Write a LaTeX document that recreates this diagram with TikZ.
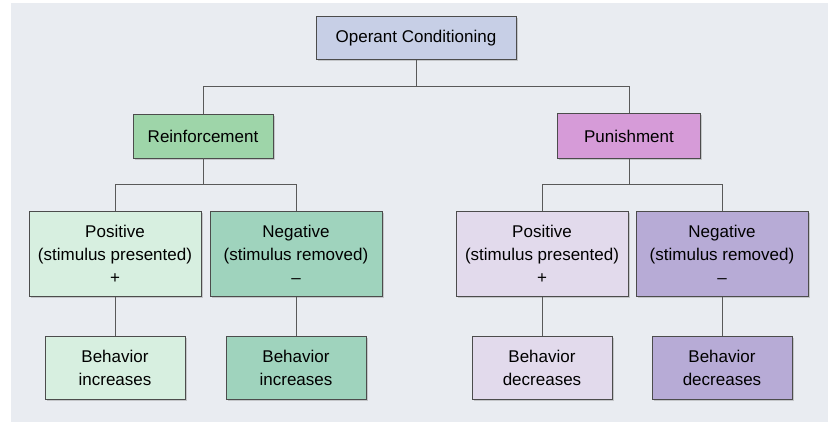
\documentclass[tikz,border=0pt]{standalone}
\usepackage{fontspec}
\setmainfont{Liberation Sans}
\usetikzlibrary{positioning,shadows}

\definecolor{panel}{HTML}{E9ECF1}
\definecolor{topc}{HTML}{C7CFE6}
\definecolor{reinc}{HTML}{9ED5A9}
\definecolor{posr}{HTML}{D7EFE0}
\definecolor{negr}{HTML}{9FD3BD}
\definecolor{punc}{HTML}{D69BD8}
\definecolor{posp}{HTML}{E2DAEC}
\definecolor{negp}{HTML}{B7ABD6}

\begin{document}
\begin{tikzpicture}[x=1pt,y=-1pt,
    box/.style={draw=black!70,thin,align=center,font=\fontsize{17}{23}\selectfont,
      drop shadow={shadow xshift=1.5pt,shadow yshift=-1.5pt,opacity=0.35}},
    link/.style={draw=black!65,thick}]
    \useasboundingbox (0,0) rectangle (836,424);
    \fill[panel] (11,3) rectangle (828,422);

    % top levels
    \node[box,fill=topc,minimum width=200,minimum height=43] (oc) at (416,38) {Operant Conditioning};
    \node[box,fill=reinc,minimum width=140,minimum height=44] (re) at (203,136) {Reinforcement};
    \node[box,fill=punc,minimum width=143,minimum height=45] (pu) at (629,136) {Punishment};

    % kinds
    \node[box,fill=posr,minimum width=172,minimum height=85] (pr) at (115,254) {Positive\\(stimulus presented)\\+};
    \node[box,fill=negr,minimum width=172,minimum height=85] (nr) at (296,254) {Negative\\(stimulus removed)\\\textendash};
    \node[box,fill=posp,minimum width=172,minimum height=85] (pp) at (542,254) {Positive\\(stimulus presented)\\+};
    \node[box,fill=negp,minimum width=172,minimum height=85] (np) at (722,254) {Negative\\(stimulus removed)\\\textendash};

    % outcomes
    \node[box,fill=posr,minimum width=140,minimum height=63] (br1) at (115,368) {Behavior\\increases};
    \node[box,fill=negr,minimum width=140,minimum height=63] (br2) at (296,368) {Behavior\\increases};
    \node[box,fill=posp,minimum width=140,minimum height=63] (bp1) at (542,368) {Behavior\\decreases};
    \node[box,fill=negp,minimum width=140,minimum height=63] (bp2) at (722,368) {Behavior\\decreases};

    % connectors
    \draw[link] (oc.south) -- ++(0,27) -| (re.north);
    \draw[link] (oc.south) -- ++(0,27) -| (pu.north);
    \draw[link] (re.south) -- ++(0,26) -| (pr.north);
    \draw[link] (re.south) -- ++(0,26) -| (nr.north);
    \draw[link] (pu.south) -- ++(0,26) -| (pp.north);
    \draw[link] (pu.south) -- ++(0,26) -| (np.north);
    \draw[link] (pr.south) -- (br1.north);
    \draw[link] (nr.south) -- (br2.north);
    \draw[link] (pp.south) -- (bp1.north);
    \draw[link] (np.south) -- (bp2.north);
\end{tikzpicture}
\end{document}
